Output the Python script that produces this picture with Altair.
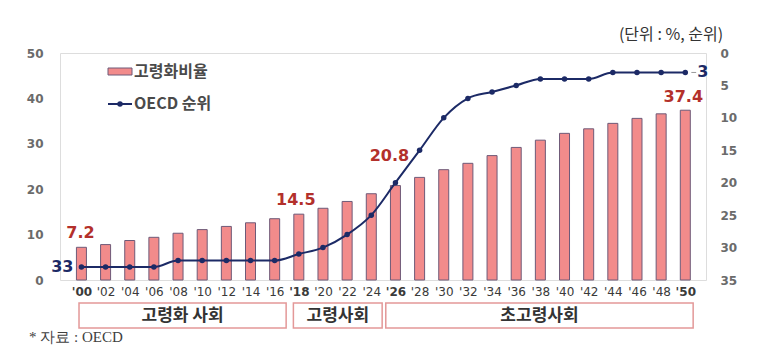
import altair as alt
import pandas as pd

# ---- data ----
years = list(range(2000, 2051, 2))
ratio = [7.2, 7.8, 8.7, 9.4, 10.3, 11.1, 11.8, 12.6, 13.5, 14.5, 15.8, 17.3, 19.0,
         20.8, 22.6, 24.3, 25.7, 27.4, 29.2, 30.8, 32.3, 33.3, 34.5, 35.6, 36.6, 37.4]
rank = [33, 33, 33, 33, 32, 32, 32, 32, 32, 31, 30, 28, 25, 20, 15, 10, 7, 6, 5, 4, 4, 4, 3, 3, 3, 3]
bold_years = [2000, 2018, 2026, 2050]
left_ticks = [0, 10, 20, 30, 40, 50]
right_ticks = [0, 5, 10, 15, 20, 25, 30, 35]

ratio_labels_year = [2000, 2018, 2026, 2050]
ratio_labels_val = [7.2, 14.5, 20.8, 37.4]
ratio_labels_dx = [-1, -3, -6, -2]
ratio_labels_dy = [-14, -14, -30, -13]

stage_names = ["고령화 사회", "고령사회", "초고령사회"]
stage_start = [1999.8, 2017.55, 2025.2]
stage_end = [2016.95, 2024.9, 2050.65]

W, H = 646, 227
XMIN, XMAX = 1998.64, 2051.30

df = pd.DataFrame({"year": years, "ratio": ratio, "rank": rank})
stages = pd.DataFrame({"name": stage_names, "year": stage_start, "e": stage_end})
stages["mid"] = (stages["year"] + stages["e"]) / 2

xscale = alt.Scale(domain=[XMIN, XMAX], nice=False, zero=False)
yleft = alt.Scale(domain=[0, 50], nice=False)
yright = alt.Scale(domain=[0, 35], reverse=True, nice=False)

bold_test = " || ".join(f"datum.value == {y}" for y in bold_years)

x_axis = alt.Axis(values=years, labelExpr="\"'\" + substring(toString(datum.value), 2)",
                  domain=False, ticks=False, grid=False, title=None,
                  labelFont="DejaVu Sans", labelFontSize=12, labelColor="#3a3a3a",
                  labelPadding=6, labelFlush=False, labelOverlap=False, labelSeparation=0,
                  labelFontWeight={"condition": {"test": bold_test, "value": "bold"}, "value": "normal"})
yl_axis = alt.Axis(values=left_ticks, domain=False, ticks=False, grid=False, title=None,
                   labelFont="DejaVu Sans", labelFontWeight="bold", labelFontSize=12,
                   labelColor="#6b6b6b", labelPadding=17, labelOverlap=False, labelFlush=False)
yr_axis = alt.Axis(orient="right", values=right_ticks, domain=False, ticks=False, grid=False,
                   title=None, labelFont="DejaVu Sans", labelFontWeight="bold", labelFontSize=12,
                   labelColor="#6b6b6b", labelPadding=14, labelOverlap=False, labelFlush=False)


def X(field):
    return alt.X(field, type="quantitative", scale=xscale, axis=x_axis)


def YL(field):
    return alt.Y(field, type="quantitative", scale=yleft, axis=yl_axis)


def YR(field):
    return alt.Y(field, type="quantitative", scale=yright, axis=yr_axis)


base = alt.Chart(df)

bars = base.mark_bar(width=10, color="#f28b8b", stroke="#6e5a78", strokeWidth=1).encode(
    x=X("year"), y=YL("ratio"))

bar_label_layers = []
for yr, v, dx, dy in zip(ratio_labels_year, ratio_labels_val, ratio_labels_dx, ratio_labels_dy):
    sub = pd.DataFrame({"year": [yr], "ratio": [v]})
    bar_label_layers.append(
        alt.Chart(sub).mark_text(font="DejaVu Sans", fontWeight="bold", fontSize=16,
                                 color="#b3302b", baseline="middle", dx=dx, dy=dy).encode(
            x=X("year"), y=YL("ratio"), text=alt.Text("ratio:Q", format=".1f"))
    )

left_layer = alt.layer(bars, *bar_label_layers)

line = base.mark_line(color="#1c2a66", strokeWidth=2, interpolate="monotone").encode(
    x=X("year"), y=YR("rank"))
pts = base.mark_point(filled=True, color="#1c2a66", size=30, opacity=1).encode(
    x=X("year"), y=YR("rank"))
first_rank = alt.Chart(pd.DataFrame({"year": [years[0]], "rank": [rank[0]]})).mark_text(
    font="DejaVu Sans", fontWeight="bold", fontSize=16, color="#1c2a66",
    align="right", baseline="middle", dx=-8).encode(x=X("year"), y=YR("rank"), text="rank:Q")
last_rank = alt.Chart(pd.DataFrame({"year": [years[-1]], "rank": [rank[-1]]})).mark_text(
    font="DejaVu Sans", fontWeight="bold", fontSize=16, color="#1c2a66",
    align="left", baseline="middle", dx=12).encode(x=X("year"), y=YR("rank"), text="rank:Q")
last_lead = alt.Chart(pd.DataFrame({"year": [years[-1] + 0.5], "e": [years[-1] + 0.9],
                                    "rank": [rank[-1]]})).mark_rule(
    color="#999999", strokeWidth=1).encode(x=X("year"), x2="e:Q", y=YR("rank"))

right_layer = alt.layer(line, pts, first_rank, last_rank, last_lead)

# stage boxes below the axis
boxes = alt.Chart(stages).mark_rect(fill="white", stroke="#e39898", strokeWidth=1.5).encode(
    x=X("year"), x2="e:Q", y=alt.value(250), y2=alt.value(275))
box_text = alt.Chart(stages).mark_text(font="Noto Sans CJK KR", fontWeight="bold", fontSize=17,
                                       color="#333333", baseline="middle").encode(
    x=X("mid"), y=alt.value(263), text="name:N")


def txt(s, x, y, size, color="#404040", weight="normal", align="left", font="Noto Sans CJK KR"):
    return alt.Chart(pd.DataFrame({"t": [s]})).mark_text(
        font=font, fontSize=size, color=color, fontWeight=weight, align=align,
        baseline="middle").encode(x=alt.value(x), y=alt.value(y), text="t:N")


leg_rect = alt.Chart(pd.DataFrame({"t": ["고령화비율"]})).mark_rect(
    fill="#f28b8b", stroke="#6e5a78", strokeWidth=1).encode(
    x=alt.value(48), x2=alt.value(72), y=alt.value(15), y2=alt.value(22))
leg_line = alt.Chart(pd.DataFrame({"t": ["OECD 순위"]})).mark_rule(
    color="#1c2a66", strokeWidth=2).encode(
    x=alt.value(48), x2=alt.value(72), y=alt.value(51))
leg_pt = alt.Chart(pd.DataFrame({"t": ["OECD 순위"]})).mark_point(
    filled=True, color="#1c2a66", size=30, opacity=1).encode(x=alt.value(60), y=alt.value(51))

decor = alt.layer(
    boxes, box_text, leg_rect, leg_line, leg_pt,
    txt("고령화비율", 74, 19, 16, weight="bold", color="#4a4a4a"),
    txt("OECD 순위", 74, 51, 16, weight="bold", color="#4a4a4a"),
    txt("(단위 : %, 순위)", 611, -18, 16, color="#333333", align="center"),
    txt("* 자료 : OECD", -31, 284, 15, color="#404040", font="Liberation Serif"),
)

chart = alt.layer(left_layer, right_layer, decor).resolve_scale(y="independent").properties(
    width=W, height=H,
    autosize=alt.AutoSizeParams(type="none"),
    padding={"left": 52, "top": 45, "right": 40, "bottom": 68},
).configure_view(strokeWidth=0).configure(background="white")

chart.save("out.html", embed_options={"renderer": "svg", "actions": False})
